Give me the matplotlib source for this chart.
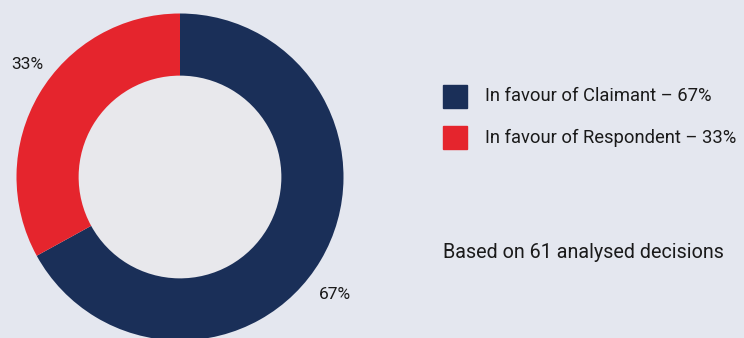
import numpy as np
import matplotlib
matplotlib.use("Agg")
import matplotlib.pyplot as plt
from matplotlib.patches import Rectangle

plt.rcParams['font.family'] = ['Roboto', 'DejaVu Sans']

# Outcome shares of analysed decisions
categories = ["In favour of Claimant", "In favour of Respondent"]
shares = [67, 33]
colors = ["#1A2F58", "#E5252D"]
note = "Based on 61 analysed decisions"

W, H, DPI = 744, 338, 100
fig = plt.figure(figsize=(W / DPI, H / DPI), dpi=DPI)
fig.patch.set_facecolor("#E4E7EF")

# Donut axes positioned in pixel space
cx, cy, r = 180, 177, 163.5
ax = fig.add_axes([(cx - r) / W, (H - cy - r) / H, 2 * r / W, 2 * r / H])

wedges, _ = ax.pie(shares, colors=colors, startangle=90, counterclock=False,
                   radius=1, wedgeprops=dict(width=0.38, edgecolor="none"))
ax.add_patch(plt.Circle((0, 0), 0.62, color="#E8E8EC", zorder=0))
ax.set_xlim(-1, 1)
ax.set_ylim(-1, 1)
ax.set_aspect("equal")
ax.axis("off")

# Percentage labels outside the ring
label_pos = [(-37, 1.19), (143.7, 1.16)]
for val, (ang, rad) in zip(shares, label_pos):
    a = np.deg2rad(ang)
    ax.text(rad * np.cos(a), rad * np.sin(a), f"{val}%", ha="center", va="center",
            fontsize=12.5, color="#1a1a1a", clip_on=False)

# Legend
for i, (cat, val, col) in enumerate(zip(categories, shares, colors)):
    y = 96 + i * 41.5
    fig.patches.append(Rectangle((443 / W, (H - y - 11.5) / H), 24 / W, 23 / H,
                                 transform=fig.transFigure, color=col))
    fig.text(485 / W, (H - y) / H, f"{cat} \u2013 {val}%", ha="left", va="center",
             fontsize=13.2, color="#1a1a1a")

fig.text(443 / W, (H - 253) / H, note, ha="left", va="center",
         fontsize=14.2, color="#1a1a1a")

fig.savefig("out.png", dpi=DPI, facecolor=fig.get_facecolor())
